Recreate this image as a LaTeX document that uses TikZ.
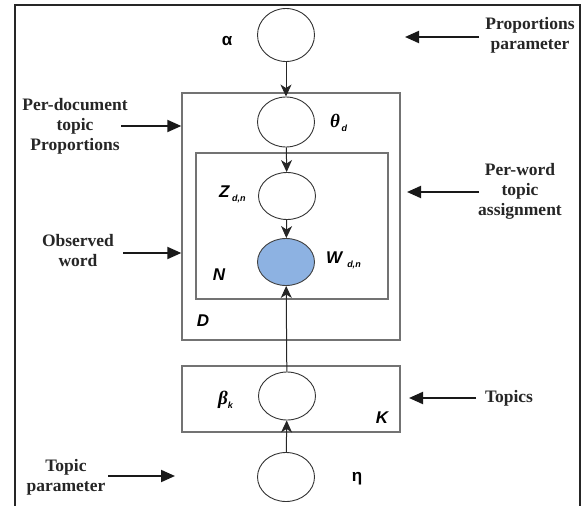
\documentclass[tikz,border=0pt]{standalone}
\usepackage{fontspec}
\setmainfont{Liberation Serif}
\newfontfamily\sansf{Liberation Sans}
\usetikzlibrary{shapes.geometric,arrows.meta}
\definecolor{obsblue}{RGB}{141,178,226}
\begin{document}
\begin{tikzpicture}[x=1pt,y=-1pt,
  var/.style={ellipse, draw=black!80, line width=0.9pt, minimum width=57pt, minimum height=50pt, inner sep=0pt},
  obs/.style={var, fill=obsblue, draw=black!75},
  plate/.style={rectangle, draw=black!55, line width=1.4pt, inner sep=0pt},
  edgearrow/.style={draw=black!85, line width=1pt, -{Stealth[length=12pt,width=11pt,inset=3.5pt]}},
  notearrow/.style={draw=black!90, line width=2pt, -{Triangle[length=14pt,width=12pt]}},
  lab/.style={font=\bfseries\fontsize{17.5}{20}\selectfont, align=center, inner sep=0pt, text=black!85},
  sym/.style={font=\sansf\bfseries\itshape\fontsize{17}{17}\selectfont, inner sep=0pt},
  grk/.style={font=\bfseries\itshape\fontsize{19}{19}\selectfont, inner sep=0pt}
]
\useasboundingbox (0,0) rectangle (584,506);
\clip (0,0) rectangle (584,506);
% outer frame
\draw[line width=2.2pt, black!85] (15,530) -- (15,5) -- (580,5) -- (580,530);

% plates
\node[plate, minimum width=218pt, minimum height=247pt] (D) at (291,216.5) {};
\node[plate, minimum width=192pt, minimum height=146pt] (N) at (292,226) {};
\node[plate, minimum width=218pt, minimum height=66pt] (K) at (291,399) {};

% variables
\node[var, minimum height=53pt] (alpha) at (286,35) {};
\node[var] (theta) at (286,122) {};
\node[var, minimum height=47pt] (z) at (287,196) {};
\node[obs, minimum height=47pt] (w) at (286,262) {};
\node[var, minimum height=48pt] (beta) at (287,396) {};
\node[var, minimum height=49pt] (eta) at (286,477) {};

% connectors
\draw[edgearrow] (alpha) -- (theta);
\draw[edgearrow] (theta) -- (z);
\draw[edgearrow] (z) -- (w);
\draw[edgearrow] (beta) -- (w);
\draw[edgearrow] (eta) -- (beta);

% symbol labels
\node[font=\sansf\bfseries\fontsize{17}{17}\selectfont, inner sep=0pt] (alab) at (227,41) {α};
\node[grk, anchor=west] (tlab) at (330,123) {θ\raisebox{-4pt}{\sansf\itshape\fontsize{9}{9}\selectfont\,d}};
\node[sym, anchor=west] (zlab) at (219,194) {Z\raisebox{-4pt}{\fontsize{9}{9}\selectfont\ d,n}};
\node[sym, anchor=west] (wlab) at (326,260) {W\raisebox{-4pt}{\fontsize{9}{9}\selectfont\ \ d,n}};
\node[sym] (nlab) at (219,275) {N};
\node[sym] (dlab) at (203,321) {D};
\node[grk, anchor=west] (blab) at (218,400) {β\raisebox{-4pt}{\sansf\itshape\fontsize{9}{9}\selectfont k}};
\node[sym] (klab) at (382,418) {K};
\node[font=\sansf\bfseries\fontsize{17}{17}\selectfont, inner sep=0pt] (elab) at (357,479) {η};

% annotation labels
\node[lab] (pp) at (530,35) {Proportions\\parameter};
\node[lab] (pd) at (75,126) {Per-document\\topic\\Proportions};
\node[lab] (pw) at (520,191) {Per-word\\topic\\assignment};
\node[lab] (ow) at (78,251) {Observed\\word};
\node[lab] (tp) at (509,398) {Topics};
\node[lab] (tpar) at (66,477) {Topic\\parameter};

% annotation arrows
\coordinate (ppS) at (479,37);  \coordinate (ppE) at (405,37);
\coordinate (pdS) at (121,126);
\coordinate (pwS) at (479,192); \coordinate (pwE) at (407,192);
\coordinate (owS) at (123,253);
\coordinate (tpS) at (476,398); \coordinate (tpE) at (409,398);
\coordinate (tparS) at (108,476); \coordinate (tparE) at (175,476);
\draw[notearrow] (ppS) -- (ppE);
\draw[notearrow] (pdS) -- (D.west |- pdS);
\draw[notearrow] (pwS) -- (pwE);
\draw[notearrow] (owS) -- (D.west |- owS);
\draw[notearrow] (tpS) -- (tpE);
\draw[notearrow] (tparS) -- (tparE);
\end{tikzpicture}
\end{document}
